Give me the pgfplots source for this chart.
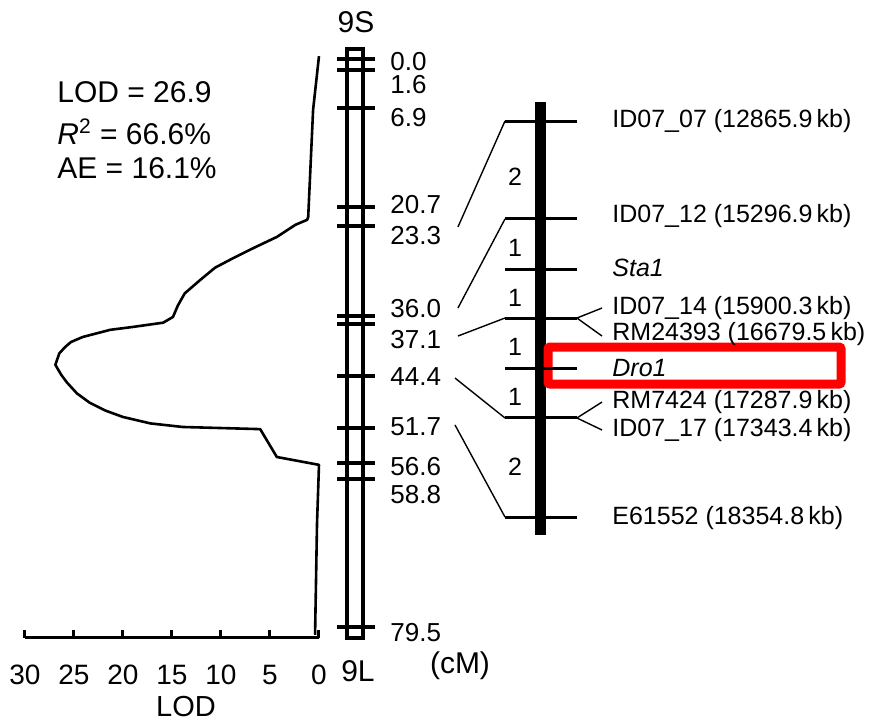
\documentclass[border=0pt]{standalone}
\usepackage{pgfplots}
\pgfplotsset{compat=1.18}
\usepackage{fontspec}
\setmainfont{Liberation Sans}
\begin{document}
\begin{tikzpicture}
\useasboundingbox (0,0) rectangle (434.5pt,-360.5pt);
\begin{axis}[
  at={(12.5pt,-318.875pt)}, anchor=south west,
  scale only axis, width=147pt, height=310.8pt,
  xmin=0, xmax=30, x dir=reverse,
  ymin=-6, ymax=81, y dir=reverse,
  axis x line*=bottom, axis y line=none,
  axis line style={-, line width=1.5pt},
  xtick={0,5,...,30}, xtick align=inside,
  major tick length=4pt,
  every tick/.style={black, line width=1.5pt},
  /pgf/number format/assume math mode=true,
  xticklabel style={font=\fontsize{14}{16}\selectfont, yshift=-10pt},
  xlabel={LOD}, xlabel style={font=\fontsize{14.5}{16}\selectfont, yshift=1pt, xshift=7pt},
  clip=false,
]
% LOD profile
\addplot[black, line width=1.3pt, line join=round] table {
x y
0.0 -0.4
0.6 7.1
1.1 22.1
1.2 22.5
2.4 23.2
4.3 24.9
6.6 26.4
8.8 27.9
10.6 29.2
12.1 30.9
13.7 32.8
14.4 34.5
14.9 36.1
15.9 36.9
19.0 37.5
21.3 37.9
24.1 38.9
25.3 39.6
25.9 40.3
26.5 41.2
26.9 42.8
26.3 44.2
25.7 45.3
24.7 46.8
23.4 48.1
21.8 49.2
20.0 50.1
17.2 51.0
13.9 51.5
6.0 51.8
4.3 55.7
0.0 56.8
0.2 65.0
0.4 80.6
};
% genetic map chromosome outline
\addplot[black, line width=2pt, line cap=rect] coordinates {(-2.857,-1.4) (-4.49,-1.4) (-4.49,81) (-2.857,81) (-2.857,-1.4)};
% genetic map marker ticks (cM)
\addplot[only marks, mark=-, mark size=9.5pt, mark options={black, line width=2pt}] coordinates {
(-3.776,0.0) (-3.776,1.6) (-3.776,6.9) (-3.776,20.7) (-3.776,23.3) (-3.776,36.0)
(-3.776,37.1) (-3.776,44.4) (-3.776,51.7) (-3.776,56.6) (-3.776,58.8) (-3.776,79.5)};
% physical map bar
\addplot[black, line width=5.5pt] coordinates {(-22.65,6.02) (-22.65,66.62)};
\addplot[only marks, mark=-, mark size=18pt, mark options={black, line width=1.5pt}] coordinates {
(-22.65,8.68) (-22.65,22.39) (-22.65,29.39) (-22.65,36.25) (-22.65,43.25) (-22.65,50.24) (-22.65,64.10)};
% connecting lines
\addplot[black, line width=0.7pt] coordinates {(-14.18,23.51) (-18.98,8.68)};
\addplot[black, line width=0.7pt] coordinates {(-14.18,34.85) (-18.98,22.39)};
\addplot[black, line width=0.7pt] coordinates {(-14.18,38.77) (-18.98,36.25)};
\addplot[black, line width=0.7pt] coordinates {(-13.88,44.65) (-18.98,50.24)};
\addplot[black, line width=0.7pt] coordinates {(-13.88,51.22) (-18.98,64.10)};
% split lines
\addplot[black, line width=0.7pt] coordinates {(-28.88,34.85) (-26.32,36.25) (-28.88,38.77)};
\addplot[black, line width=0.7pt] coordinates {(-28.88,48.01) (-26.32,50.24) (-28.88,51.92)};
% red highlight box
\addplot[red, line width=4.5pt, rounded corners=1pt] coordinates {(-23.37,40.31) (-53.27,40.31) (-53.27,45.49) (-23.37,45.49) (-23.37,40.31) (-53.27,40.31)};
\end{axis}
\begin{scope}[x=0.5pt, y=-0.5pt, every node/.style={inner sep=0pt, font=\fontsize{12.5}{15}\selectfont}]
\node[anchor=west, font=\fontsize{15}{17}\selectfont] at (57,92) {LOD = 26.9};
\node[anchor=west, font=\fontsize{15}{17}\selectfont] at (57,132) {\textit{R}\textsuperscript{2} = 66.6\%};
\node[anchor=west, font=\fontsize{15}{17}\selectfont] at (57,168) {AE = 16.1\%};
\node[font=\fontsize{15}{17}\selectfont] at (356,22) {9S};
\node[font=\fontsize{15}{17}\selectfont] at (358,671) {9L};
\node[font=\fontsize{15}{17}\selectfont] at (460,666) {(cM)};
\foreach \t/\y in {0.0/62,1.6/85,6.9/118,20.7/205,23.3/236,36.0/309,37.1/340,44.4/377,51.7/427,56.6/467,58.8/495,79.5/633}
  \node[anchor=west, font=\fontsize{13}{15}\selectfont] at (390,\y) {\t};
\foreach \t/\y in {2/177,1/248,1/298,1/347,1/397,2/467}
  \node at (515,\y) {\t};
\node[anchor=west] at (612,121) {ID07\_07 (12865.9\,kb)};
\node[anchor=west] at (612,216) {ID07\_12 (15296.9\,kb)};
\node[anchor=west] at (612,268) {\textit{Sta1}};
\node[anchor=west] at (612,308) {ID07\_14 (15900.3\,kb)};
\node[anchor=west] at (612,334) {RM24393 (16679.5\,kb)};
\node[anchor=west] at (612,368) {\textit{Dro1}};
\node[anchor=west] at (612,402) {RM7424 (17287.9\,kb)};
\node[anchor=west] at (612,430) {ID07\_17 (17343.4\,kb)};
\node[anchor=west] at (612,518) {E61552 (18354.8\,kb)};
\end{scope}
\end{tikzpicture}
\end{document}
